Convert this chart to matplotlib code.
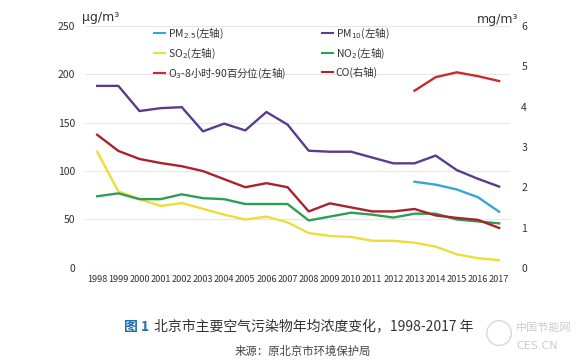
import matplotlib
matplotlib.use("Agg")
import matplotlib.pyplot as plt
from matplotlib.lines import Line2D
from matplotlib.patches import Ellipse

plt.rcParams['font.family'] = ['Noto Sans CJK SC', 'DejaVu Sans']

# 数据
years = list(range(1998, 2018))
pm10 = [188, 188, 162, 165, 166, 141, 149, 142, 161, 148,
        121, 120, 120, 114, 108, 108, 116, 101, 92, 84]
so2 = [120, 79, 71, 64, 67, 61, 55, 50, 53, 47,
       36, 33, 32, 28, 28, 26, 22, 14, 10, 8]
no2 = [74, 77, 71, 71, 76, 72, 71, 66, 66, 66,
       49, 53, 57, 55, 52, 56, 56, 50, 48, 46]
co = [3.3, 2.9, 2.7, 2.6, 2.52, 2.4, 2.2, 2.0, 2.1, 2.0,
      1.4, 1.6, 1.5, 1.4, 1.4, 1.46, 1.3, 1.24, 1.19, 0.99]
years_13 = [2013, 2014, 2015, 2016, 2017]
pm25 = [89, 86, 81, 73, 58]
o3 = [183, 197, 202, 198, 193]

left_ticks = [0, 50, 100, 150, 200, 250]
right_ticks = [0, 1, 2, 3, 4, 5, 6]

c_pm25 = '#35a7d6'
c_pm10 = '#5a3b8c'
c_so2 = '#eedc3a'
c_no2 = '#2f9e55'
c_o3 = '#cc2a30'
c_co = '#a8232b'

fig = plt.figure(figsize=(5.83, 3.64), dpi=100)
ax = fig.add_axes([0.146, 0.264, 0.729, 0.665])
ax2 = ax.twinx()

lw = 1.7
ax.plot(years, pm10, color=c_pm10, lw=lw)
ax.plot(years, so2, color=c_so2, lw=lw)
ax.plot(years, no2, color=c_no2, lw=lw)
ax.plot(years_13, pm25, color=c_pm25, lw=lw)
ax.plot(years_13, o3, color=c_o3, lw=lw)
ax2.plot(years, co, color=c_co, lw=lw)

ax.set_ylim(0, 250)
ax2.set_ylim(0, 6)
ax.set_xlim(1997.43, 2017.52)
ax.set_yticks(left_ticks)
ax2.set_yticks(right_ticks)
ax.set_xticks(years)
ax.set_xticklabels([str(y) for y in years], fontsize=6.6, color='#333333')
ax.tick_params(axis='y', labelsize=7.5, colors='#333333', length=0, pad=7)
ax2.tick_params(axis='y', labelsize=7.5, colors='#333333', length=0, pad=8)
ax.tick_params(axis='x', length=0, pad=5)
ax.grid(axis='y', color='#e6e6e6', lw=0.8)
ax.set_axisbelow(True)
for a in (ax, ax2):
    for s in a.spines.values():
        s.set_visible(False)

fig.text(0.14, 0.943, 'μg/m³', fontsize=9, color='#333333', family='DejaVu Sans')
fig.text(0.818, 0.938, 'mg/m³', fontsize=9, color='#333333', family='DejaVu Sans')

handles = [
    Line2D([], [], color=c_pm25, lw=1.5),
    Line2D([], [], color=c_so2, lw=1.5),
    Line2D([], [], color=c_o3, lw=1.5),
    Line2D([], [], color=c_pm10, lw=1.5),
    Line2D([], [], color=c_no2, lw=1.5),
    Line2D([], [], color=c_co, lw=1.5),
]
labels = ['PM$_{2.5}$(左轴)', 'SO$_2$(左轴)', 'O$_3$-8小时-90百分位(左轴)',
          'PM$_{10}$(左轴)', 'NO$_2$(左轴)', 'CO(右轴)']
ax.legend(handles, labels, ncol=2, loc='upper left', bbox_to_anchor=(0.14, 1.035),
          frameon=False, fontsize=7.5, handlelength=1.1, handletextpad=0.25,
          columnspacing=3.4, labelspacing=0.55, labelcolor='#333333')

# 标题与来源
fig.text(0.212, 0.09, '图 1', fontsize=10, color='#1f6db3', fontweight='bold')
fig.text(0.264, 0.09, '北京市主要空气污染物年均浓度变化，1998-2017 年', fontsize=10, color='#333333')
fig.text(0.403, 0.025, '来源：原北京市环境保护局', fontsize=8.2, color='#444444', style='italic')

# 水印
fig.patches.append(Ellipse((0.856, 0.085), 0.042, 0.068, transform=fig.transFigure,
                           fill=False, ec='#d8d8d8', lw=1.0))
fig.text(0.885, 0.09, '中国节能网', fontsize=8, color='#cccccc')
fig.text(0.885, 0.04, 'CES.CN', fontsize=8, color='#cccccc', family='DejaVu Sans')

fig.savefig('out.png', dpi=100)
